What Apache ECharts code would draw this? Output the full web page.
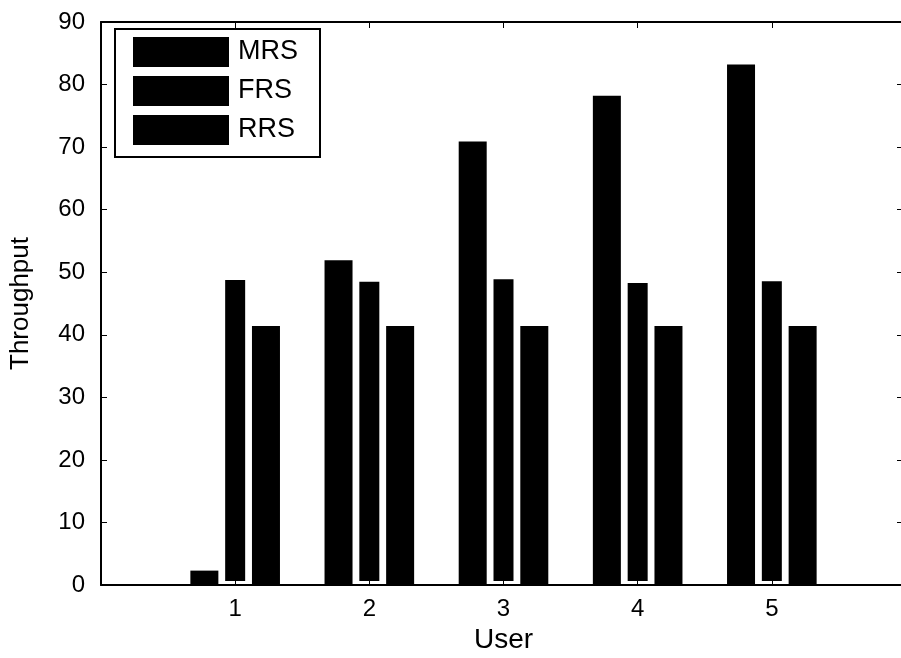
<!DOCTYPE html>
<html>
<head>
<meta charset="utf-8">
<script src="https://cdn.jsdelivr.net/npm/echarts@6/dist/echarts.min.js"></script>
<style>
  html, body { margin: 0; padding: 0; background: #fff; }
  #chart { width: 901px; height: 658px; }
</style>
</head>
<body>
<div id="chart"></div>
<script>
  const users = [1, 2, 3, 4, 5];
  const mrs = [2.3, 51.9, 70.9, 78.2, 83.2];
  const frs = [49.4, 49.1, 49.5, 48.9, 49.2];
  const rrs = [41.4, 41.4, 41.4, 41.4, 41.4];

  const font = 'Liberation Sans';

  function pairs(vals) {
    return users.map((u, i) => [u, vals[i]]);
  }

  const chart = echarts.init(document.getElementById('chart'));

  chart.setOption({
    backgroundColor: '#fff',
    animation: false,

    grid: {
      left: 101,
      right: -5,
      top: 22,
      bottom: 73,
      outerBoundsMode: 'none'
    },

    legend: {
      orient: 'vertical',
      left: 115,
      top: 29,
      padding: [8, 22, 12, 18],
      itemGap: 9,
      itemWidth: 96,
      itemHeight: 30,
      icon: 'rect',
      borderColor: '#000',
      borderWidth: 2,
      backgroundColor: '#fff',
      itemStyle: { borderWidth: 0 },
      textStyle: {
        fontFamily: font,
        fontSize: 27,
        color: '#000',
        padding: [0, 0, 0, 4]
      },
      data: ['MRS', 'FRS', 'RRS']
    },

    // X轴
    xAxis: [{
      type: 'value',
      min: 0,
      max: 6,
      interval: 1,
      z: 10,
      name: 'User',
      nameLocation: 'middle',
      nameGap: 34,
      nameTextStyle: { fontFamily: font, fontSize: 28, color: '#000' },
      axisLine: { onZero: false, lineStyle: { color: '#000', width: 2 } },
      axisTick: { inside: true, length: 6, lineStyle: { color: '#000' } },
      axisLabel: {
        margin: 12,
        fontFamily: font,
        fontSize: 24,
        color: '#000',
        formatter: v => (v >= 1 && v <= 5 ? String(v) : '')
      },
      splitLine: { show: false }
    }, {
      type: 'value',
      position: 'top',
      min: 0,
      max: 6,
      interval: 1,
      z: 10,
      axisLine: { show: true, onZero: false, lineStyle: { color: '#000', width: 2 } },
      axisTick: { inside: true, length: 6, lineStyle: { color: '#000' } },
      axisLabel: { show: false },
      splitLine: { show: false }
    }],

    // Y轴
    yAxis: [{
      type: 'value',
      min: 0,
      max: 90,
      interval: 10,
      z: 10,
      name: 'Throughput',
      nameLocation: 'middle',
      nameGap: 67,
      nameTextStyle: { fontFamily: font, fontSize: 26, color: '#000' },
      axisLine: { show: true, onZero: false, lineStyle: { color: '#000', width: 2 } },
      axisTick: { show: true, inside: true, length: 6, lineStyle: { color: '#000' } },
      axisLabel: { margin: 16, fontFamily: font, fontSize: 24, color: '#000' },
      splitLine: { show: false }
    }, {
      type: 'value',
      position: 'right',
      min: 0,
      max: 90,
      interval: 10,
      z: 10,
      axisLine: { show: true, onZero: false, lineStyle: { color: '#000', width: 2 } },
      axisTick: { show: true, inside: true, length: 9, lineStyle: { color: '#000' } },
      axisLabel: { show: false },
      splitLine: { show: false }
    }],

    // 数据序列
    series: [{
      name: 'MRS',
      type: 'bar',
      data: pairs(mrs),
      barWidth: 28,
      barGap: '10%',
      itemStyle: { color: '#000' }
    }, {
      name: 'FRS',
      type: 'bar',
      data: pairs(frs),
      barWidth: 28,
      barGap: '10%',
      itemStyle: { color: '#000', borderColor: '#fff', borderWidth: 4 }
    }, {
      name: 'RRS',
      type: 'bar',
      data: pairs(rrs),
      barWidth: 28,
      barGap: '10%',
      itemStyle: { color: '#000' }
    }]
  });
</script>
</body>
</html>
